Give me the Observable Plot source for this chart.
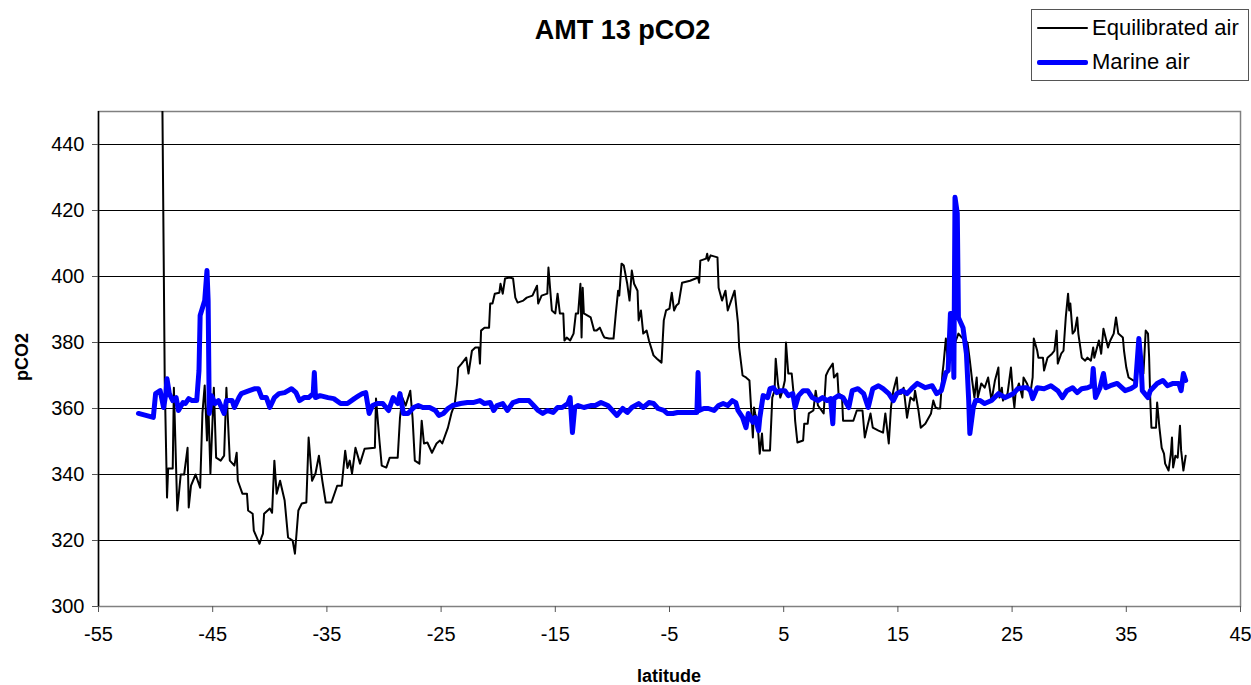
<!DOCTYPE html>
<html>
<head>
<meta charset="utf-8">
<script src="https://cdn.jsdelivr.net/npm/d3@7"></script>
<script src="https://cdn.jsdelivr.net/npm/@observablehq/plot@0.6"></script>
<style>
  html, body { margin: 0; padding: 0; background: #fff; }
  body { width: 1251px; height: 685px; position: relative; overflow: hidden; font-family: "Liberation Sans", Arial, sans-serif; }
  #chart { position: absolute; left: 0; top: 0; }
  #title { position: absolute; left: 0; width: 1245px; top: 14px; text-align: center; font-weight: bold; font-size: 27px; line-height: 32px; }
  #legend { position: absolute; left: 1031px; top: 9px; width: 218px; height: 72px; border: 1px solid #555; box-sizing: border-box; background: #fff; }
  .li { position: absolute; left: 5px; height: 26px; display: flex; align-items: center; font-size: 22px; white-space: nowrap; }
  .sw { width: 51px; margin-right: 4px; }
  #ylab { position: absolute; left: 22px; top: 357px; transform: translate(-50%, -50%) rotate(-90deg); font-weight: bold; font-size: 18px; }
  #xlab { position: absolute; left: 669px; top: 676px; transform: translate(-50%, -50%); font-weight: bold; font-size: 18px; }
</style>
</head>
<body>
<div id="chart"></div>
<div id="title"></div>
<div id="legend"></div>
<div id="ylab"></div>
<div id="xlab"></div>
<script>
const titleText = "AMT 13 pCO2";
const xLabel = "latitude";
const yLabel = "pCO2";
const seriesNames = ["Equilibrated air", "Marine air"];
const seriesColors = ["#000000", "#0000ff"];
const seriesWidths = [2, 5];
const xTicks = [-55, -45, -35, -25, -15, -5, 5, 15, 25, 35, 45];
const yTicks = [300, 320, 340, 360, 380, 400, 420, 440];

// Equilibrated air: latitude / pCO2
const eqLat = [-49.4,-49.2,-49.0,-48.9,-48.5,-48.4,-48.1,-47.8,-47.5,-47.2,-47.1,-46.9,-46.5,-46.1,-45.9,-45.7,-45.5,-45.4,-45.2,-44.9,-44.7,-44.3,-44.0,-43.8,-43.5,-43.1,-42.9,-42.8,-42.4,-42.0,-41.9,-41.5,-41.4,-40.9,-40.7,-40.6,-40.5,-40.0,-39.8,-39.6,-39.4,-39.1,-38.7,-38.4,-38.0,-37.8,-37.5,-37.2,-36.8,-36.6,-36.3,-36.0,-35.7,-35.4,-35.1,-34.6,-34.1,-33.7,-33.4,-33.2,-33.0,-32.8,-32.5,-32.1,-31.7,-30.8,-30.7,-30.4,-30.2,-29.8,-29.5,-28.8,-28.6,-28.4,-28.1,-27.7,-27.5,-27.3,-26.9,-26.7,-26.5,-26.2,-25.8,-25.4,-25.1,-24.9,-24.4,-24.1,-23.8,-23.6,-23.5,-23.2,-23.0,-22.8,-22.6,-22.3,-22.0,-21.7,-21.6,-21.5,-21.2,-20.8,-20.7,-20.5,-20.3,-19.9,-19.8,-19.6,-19.4,-19.0,-18.7,-18.5,-18.3,-17.8,-17.5,-17.0,-16.6,-16.5,-16.2,-15.7,-15.6,-15.3,-15.0,-14.8,-14.6,-14.3,-14.2,-14.0,-13.7,-13.4,-13.2,-13.0,-12.8,-12.7,-12.6,-12.5,-11.9,-11.6,-11.4,-11.1,-10.8,-10.7,-10.3,-9.9,-9.7,-9.5,-9.4,-9.2,-9.0,-8.7,-8.5,-8.3,-8.1,-7.8,-7.7,-7.5,-7.3,-7.0,-6.8,-6.4,-6.1,-5.7,-5.5,-5.3,-5.0,-4.8,-4.6,-4.4,-4.2,-3.9,-3.2,-2.5,-2.4,-2.3,-1.8,-1.7,-1.6,-1.4,-0.8,-0.7,-0.4,-0.1,0.1,0.4,0.7,1.0,1.1,1.4,1.7,2.0,2.3,2.4,2.5,2.7,2.9,3.1,3.2,3.8,4.0,4.2,4.3,4.5,4.7,4.9,5.1,5.2,5.4,5.7,5.9,6.0,6.2,6.7,6.8,7.1,7.2,7.6,7.8,8.0,8.5,8.7,8.9,9.3,9.4,9.7,9.8,10.1,10.2,11.1,11.4,11.9,12.1,12.3,12.6,12.8,13.3,13.7,13.9,14.2,14.4,14.6,14.9,15.0,15.3,15.5,15.8,16.1,16.4,16.5,16.8,17.0,17.4,17.9,18.1,18.3,18.5,18.7,18.9,19.0,19.2,19.4,19.6,19.9,20.3,20.6,21.1,21.3,21.5,21.7,21.9,22.0,22.3,22.6,22.9,23.2,23.5,23.8,23.9,24.1,24.2,24.6,24.9,25.1,25.2,25.3,25.6,25.9,26.0,26.3,26.6,26.8,26.9,27.2,27.3,27.7,27.8,28.1,28.5,28.7,28.9,29.0,29.3,29.5,29.7,29.9,30.0,30.1,30.3,30.5,30.7,30.8,31.1,31.4,31.6,31.9,32.1,32.2,32.6,32.8,33.0,33.4,33.6,33.9,34.1,34.3,34.7,34.8,35.0,35.2,35.6,35.9,36.1,36.3,36.5,36.7,36.9,37.0,37.1,37.2,37.6,37.7,37.9,38.1,38.3,38.4,38.7,38.9,39.0,39.1,39.3,39.5,39.7,39.8,40.0,40.2];
const eqVal = [450,368.4,333.0,341.8,341.8,366.3,329.1,340,340,348.1,330,336.6,340,336,358.5,367,350.3,363.3,340.3,366.3,345.1,344.2,345.7,366.3,344.2,342.7,346.6,338.1,334.2,334.2,329.1,328.1,323,319,321.2,322.1,328.1,329.7,328.4,344.2,334.2,338.1,332.1,320.9,320,316,329.1,331.2,331.5,351.2,338.1,340.3,345.7,338.1,331.5,331.5,336.6,336.6,347.2,342,344.2,340.3,348.1,343.3,347.8,348.1,363,350.3,342.7,342.1,345.1,345.1,357.2,363.3,360.9,365.4,357.2,344.2,343.3,356.3,349.4,349.7,346.6,349.4,350.3,349.4,354.2,358.5,361.5,367.5,372.4,373.6,374.5,375.4,370.6,377.5,378.5,378.5,373.6,383.6,384.5,384.5,391.8,391.8,394.8,395.1,397.8,394.8,399.4,399.7,399.4,393.6,392.1,392.7,393.6,394.2,397.2,391.8,394.2,394.8,402.7,389.7,388.8,394.8,388.8,388.8,380.6,381.5,380.6,382.7,388.8,388.8,397.8,381.5,396.6,388.8,387.6,383.6,383.6,384.5,382.1,381.5,381.2,381.2,388.8,395.7,394.2,403.9,403.3,397.8,392.7,401.8,397.8,395.7,386.7,389.7,382.7,383.6,380.6,376.1,375.1,373.9,386.7,389.7,390.3,395.1,389.7,391.2,391.8,398.1,398.7,399.7,398.1,404.8,405.4,406.9,404.8,406.4,405.8,396.6,392.7,395.7,389.7,392.7,395.7,385.8,378.5,370,369.4,368.5,351.2,360.3,358.5,356.3,346.3,352.4,347.3,347.3,363.3,365.4,375.1,367.5,363.3,365.4,368.5,380,370.6,370.6,363.3,356.3,349.7,350.3,355.4,355.4,358.5,359.4,365.4,360.9,358.5,370,371.5,373.6,369.4,370.6,364.5,363.9,356.3,356.3,359.4,359.4,351.2,354.2,358.5,354.2,353.3,352.7,358.5,349.4,360.6,365.4,369.4,364.5,364.5,366.3,357.2,363.3,362.4,365.4,359.4,354.2,355.4,358.5,362.4,360.3,360,360,370.6,373.6,381.2,373,374.5,379,382.7,381.5,379.9,374.5,368.5,363.3,369.4,363.3,367.6,366.3,369.4,362.4,368.5,372.4,363.3,366.3,362.4,364.5,372.4,363.3,360.3,364.5,367.6,363.3,369.4,367.6,364.5,369.4,381.2,377.5,375.4,375.4,371.5,375.4,376.6,377.5,383.6,373.6,376.6,377.5,387.6,394.8,389.7,391.8,382.7,383.6,387.6,382.7,375.4,374.5,375.4,374.5,378.5,375.4,380.6,376.6,384.2,378.5,380.6,382.7,387.6,382.7,381.5,377.5,372.4,369.4,368.5,368.5,376.6,371.5,370.6,383.6,382.7,375.4,362.4,354.2,354.2,361.8,354.2,348.1,346.3,343.3,341.2,346.3,351.2,342.1,345.7,345.1,354.8,347.3,341.2,345.7];

// Marine air: latitude / pCO2
const maLat = [-51.5,-50.2,-50.0,-49.6,-49.3,-49.1,-49.0,-48.8,-48.5,-48.2,-48.0,-47.6,-47.4,-47.1,-46.8,-46.4,-46.2,-46.1,-45.7,-45.5,-45.4,-45.3,-45.1,-44.8,-44.5,-44.0,-43.8,-43.3,-43.1,-42.7,-42.5,-41.8,-41.3,-41.0,-40.7,-40.3,-40.0,-39.6,-39.2,-38.7,-38.1,-37.7,-37.4,-37.0,-36.6,-36.2,-36.1,-36.0,-35.6,-34.9,-34.4,-33.8,-33.2,-32.6,-32.2,-31.9,-31.6,-31.3,-31.0,-30.6,-30.1,-29.6,-29.2,-28.8,-28.6,-28.3,-27.9,-27.4,-27.0,-26.6,-26.0,-25.5,-25.2,-24.8,-24.4,-24.0,-23.3,-22.7,-22.2,-21.6,-21.2,-20.7,-20.4,-20.1,-19.6,-19.2,-18.7,-18.2,-17.8,-17.3,-16.9,-16.5,-16.1,-15.7,-15.2,-14.8,-14.4,-13.9,-13.7,-13.5,-13.3,-13.0,-12.5,-11.9,-11.5,-11.0,-10.4,-10.0,-9.6,-9.1,-8.7,-8.3,-7.7,-7.3,-6.8,-6.4,-6.0,-5.5,-5.2,-4.7,-4.3,-2.6,-2.5,-2.4,-2.0,-1.6,-1.1,-0.7,-0.3,0.1,0.5,0.8,1.0,1.4,1.7,1.9,2.3,2.5,2.8,2.9,3.2,3.6,3.8,4.1,4.4,4.7,5.1,5.4,5.8,6.0,6.3,6.7,7.1,7.5,8.0,8.4,8.8,9.1,9.3,9.4,9.8,10.2,10.7,11.0,11.5,12.0,12.4,12.8,13.3,13.7,14.2,14.6,14.9,15.4,15.8,16.2,16.7,17.4,18.0,18.4,18.8,19.2,19.4,19.6,19.8,19.9,20.0,20.2,20.3,20.7,21.0,21.2,21.3,21.6,21.8,22.2,22.6,23.2,23.8,24.4,25.1,25.5,26.0,26.3,26.6,26.8,27.2,27.8,28.4,29.0,29.4,29.8,30.3,30.7,31.1,31.6,32.0,32.1,32.3,32.7,33.0,33.2,33.6,34.2,34.9,35.4,35.8,36.1,36.3,36.4,36.9,37.1,37.7,38.2,38.6,39.1,39.6,39.8,40.0,40.2];
const maVal = [358.5,357.3,364.5,365.4,360.3,364.5,369,364.5,362.4,363.3,359.4,361.8,361.5,363,362.4,362.4,371.5,388.2,392.7,401.8,392.7,358.5,363.9,361.5,362.4,358.5,362.4,362.4,360.3,363.3,364.5,365.4,366,366,363.3,363.3,360.3,363.3,364.5,364.8,366,364.8,362.4,363.3,363.3,364.5,370.9,363.3,363.9,363.3,363,361.5,361.5,363,363.9,364.5,364.8,358.5,360.9,361.5,361.5,359.4,363.3,361.5,364.5,358.5,358.5,360.3,360.9,360.3,360.3,359.4,357.9,358.5,360,360.9,361.5,361.8,361.8,362.4,361.5,361.8,359.4,360.9,361.5,359.4,361.8,362.4,362.4,362.4,360.9,359.4,358.5,359.4,358.8,360.3,360.3,361.5,363.3,352.7,360.3,360.9,360.3,360.9,360.9,361.8,360.9,359.4,357.9,360,358.8,360.3,361.5,360.3,361.8,361.5,360,359.4,358.5,358.5,358.8,358.8,370.9,359.4,360,360,359.4,360.9,361.5,360.9,362.4,361.8,359.4,357.3,354.2,358.5,355.8,357.3,353.3,357,363.9,363.3,366,366.3,364.8,365.4,365.4,363.9,364.5,360.3,363.9,365.4,365.4,363.3,362.4,363.3,362.4,363,355.4,363,363.9,363.3,360.3,365.4,366,364.5,360.3,366,366.9,366,364.5,362.4,364.5,365.4,364.5,366,367.6,366.3,366.9,364.5,365.4,370.9,371.5,388.8,388.8,369.4,424,419.1,387.6,384.5,376.6,362.4,352.4,360.3,362.4,362.4,361.5,362.4,364.5,363.3,364.5,366,366.3,366.3,365.4,363,366.3,366,366.9,365.4,363.3,365.4,366.3,364.8,366,366.3,366.9,372.1,363.3,366.3,370.6,366.3,366.9,367.6,365.4,366,366.9,381.2,373.6,365.4,363.3,365.4,367.6,368.5,366.9,367.6,367.6,365.4,370.6,368.5];

const rows = [
  ...eqLat.map((x, i) => ({lat: x, v: eqVal[i], s: seriesNames[0]})),
  ...maLat.map((x, i) => ({lat: x, v: maVal[i], s: seriesNames[1]}))
];

const chart = Plot.plot({
  width: 1251,
  height: 685,
  marginLeft: 98,
  marginRight: 11,
  marginTop: 111,
  marginBottom: 79,
  style: {fontFamily: "'Liberation Sans', Arial, sans-serif", fontSize: "20px", color: "#000", background: "#fff"},
  x: {domain: [-55, 45], label: null},
  y: {domain: [300, 450], label: null},
  marks: [
    Plot.gridY(yTicks, {stroke: "#000", strokeOpacity: 1, strokeWidth: 1}),
    Plot.frame({stroke: "#808080", strokeWidth: 1.5}),
    Plot.ruleX([-55], {stroke: "#000", strokeWidth: 1.5}),
    Plot.axisY(yTicks, {tickSize: 6, tickPadding: 8, fontSize: 20, label: null, stroke: "#555", tickFormat: d => String(d)}),
    Plot.axisX(xTicks, {tickSize: 6, tickPadding: 14, fontSize: 20, label: null, stroke: "#555", tickFormat: d => String(d)}),
    Plot.lineY(rows.filter(d => d.s === seriesNames[0]), {x: "lat", y: "v", stroke: seriesColors[0], strokeWidth: seriesWidths[0], clip: true, curve: "linear"}),
    Plot.lineY(rows.filter(d => d.s === seriesNames[1]), {x: "lat", y: "v", stroke: seriesColors[1], strokeWidth: seriesWidths[1], clip: true, curve: "linear", strokeLinejoin: "round", strokeLinecap: "round"})
  ]
});
document.getElementById("chart").appendChild(chart);

document.getElementById("title").textContent = titleText;
document.getElementById("xlab").textContent = xLabel;
document.getElementById("ylab").textContent = yLabel;
const leg = document.getElementById("legend");
seriesNames.forEach((name, i) => {
  const item = document.createElement("div");
  item.className = "li";
  item.style.top = (i === 0 ? 5 : 39) + "px";
  const sw = document.createElement("div");
  sw.className = "sw";
  sw.style.height = seriesWidths[i] + "px";
  sw.style.background = seriesColors[i];
  sw.style.borderRadius = "2px";
  const t = document.createElement("span");
  t.textContent = name;
  item.appendChild(sw);
  item.appendChild(t);
  leg.appendChild(item);
});
</script>
</body>
</html>
